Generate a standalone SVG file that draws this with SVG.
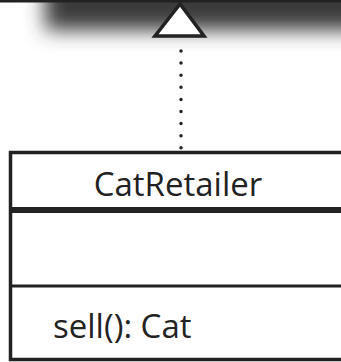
<svg xmlns="http://www.w3.org/2000/svg" width="341" height="362" viewBox="0 0 341 362">
<style>
.txt{font-family:"Open Sans","Liberation Sans",sans-serif;fill:#222;}
.ln{stroke:#222;fill:none;}
</style>
<defs>
<filter id="blur" x="-50%" y="-50%" width="200%" height="200%"><feGaussianBlur stdDeviation="10"/></filter>
</defs>
<rect width="341" height="362" fill="#fff"/>
<g id="parent">
<rect x="45" y="-30" width="340" height="60" fill="#3a3a3a" filter="url(#blur)"/>
<line class="ln" x1="0" y1="1" x2="341" y2="1" stroke-width="3"/>
</g>
<g id="connectors">
<line class="ln" x1="181" y1="40" x2="181" y2="152" stroke-width="3.5" stroke-dasharray="0 12.1" stroke-linecap="round" stroke-dashoffset="-11"/>
<polygon points="180,4 155,36 204,36" fill="#fff" stroke="#222" stroke-width="3.5" stroke-linejoin="miter"/>
</g>
<g id="CatRetailer">
<rect x="10.5" y="152.5" width="340" height="207" fill="#fff" stroke="#222" stroke-width="3.5"/>
<line class="ln" x1="10" y1="210" x2="345" y2="210" stroke-width="6"/>
<line class="ln" x1="10" y1="286" x2="345" y2="286" stroke-width="3"/>
<text class="txt" x="178" y="196" font-size="33" text-anchor="middle">CatRetailer</text>
<text class="txt" x="53" y="338" font-size="33">sell(): Cat</text>
</g>
</svg>
